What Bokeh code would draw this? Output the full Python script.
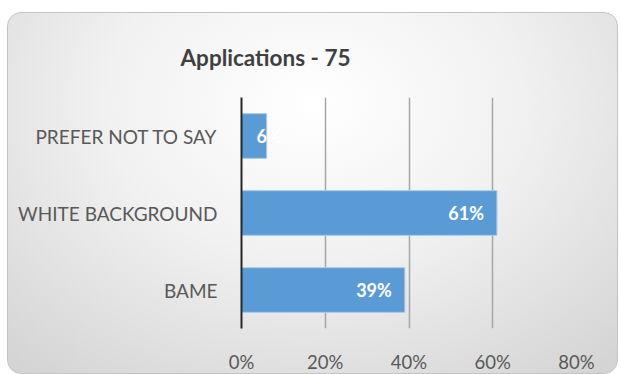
from bokeh.plotting import figure
from bokeh.models import ColumnDataSource, FactorRange, Range1d, FixedTicker, NumeralTickFormatter, LabelSet
from bokeh.core.properties import value
from bokeh.embed import file_html
from bokeh.resources import INLINE

title_text = "Applications - 75"
categories = ["BAME", "WHITE BACKGROUND", "PREFER NOT TO SAY"]
values = [0.39, 0.61, 0.06]
tick_values = [0, 0.2, 0.4, 0.6, 0.8]

labels = [f"{round(v*100)}%" for v in values]
small = [v < 0.15 for v in values]

FONT = "Lato"
p = figure(width=611, height=362, output_backend="svg", toolbar_location=None,
           y_range=FactorRange(factors=categories, range_padding=0),
           x_range=Range1d(0, 0.8),
           min_border_left=233, min_border_right=43, min_border_top=84, min_border_bottom=46,
           margin=(12, 3, 0, 7))
p.styles = {"background": "radial-gradient(ellipse 75% 95% at 50% 25%, #ffffff 0%, #f1f1f1 45%, #d4d4d4 100%)",
            "border": "1px solid #c4c4c4", "border-radius": "14px"}
p.border_fill_color = None
p.background_fill_color = None
p.outline_line_color = None

src = ColumnDataSource(dict(cat=categories, val=values))
p.hbar(y="cat", right="val", left=0, height=0.58, source=src,
       fill_color="#5b9bd5", line_color="#a9c9ea", line_width=1)

big_src = ColumnDataSource(dict(
    lx=[v for v, s in zip(values, small) if not s],
    cat=[c for c, s in zip(categories, small) if not s],
    lab=[l for l, s in zip(labels, small) if not s]))
small_src = ColumnDataSource(dict(
    lx=[0 for v, s in zip(values, small) if s],
    cat=[c for c, s in zip(categories, small) if s],
    lab=[l for l, s in zip(labels, small) if s]))
p.add_layout(LabelSet(x="lx", y="cat", text="lab", source=big_src, x_offset=-13,
                      text_align="right", text_baseline="middle", text_color="white",
                      text_font=value(FONT), text_font_style="bold", text_font_size="18px"))
p.add_layout(LabelSet(x="lx", y="cat", text="lab", source=small_src, x_offset=15,
                      text_align="left", text_baseline="middle", text_color="white",
                      text_font=value(FONT), text_font_style="bold", text_font_size="18px"))

p.title.text = title_text
p.title.align = "left"
p.title.vertical_align = "top"
p.title.offset = -61
p.title.standoff = 50
p.title.text_font = FONT
p.title.text_font_size = "22.5px"
p.title.text_font_style = "bold"
p.title.text_color = "#404040"

p.xaxis.ticker = FixedTicker(ticks=tick_values)
p.xaxis.formatter = NumeralTickFormatter(format="0%")
p.xaxis.axis_line_color = None
p.xaxis.major_tick_line_color = None
p.xaxis.minor_tick_line_color = None
p.xaxis.major_label_text_font = FONT
p.xaxis.major_label_text_font_size = "18.5px"
p.xaxis.major_label_text_color = "#595959"
p.xaxis.major_label_standoff = 16

p.yaxis.axis_line_color = "#262626"
p.yaxis.axis_line_width = 2
p.yaxis.major_tick_line_color = None
p.yaxis.minor_tick_line_color = None
p.yaxis.major_label_text_font = FONT
p.yaxis.major_label_text_font_size = "19px"
p.yaxis.major_label_text_color = "#595959"
p.yaxis.major_label_standoff = 18

p.ygrid.grid_line_color = None
p.xgrid.ticker = FixedTicker(ticks=tick_values)
p.xgrid.grid_line_color = "#a6a6a6"
p.xgrid.grid_line_width = 1.5

open("out.html", "w").write(file_html(p, INLINE))
